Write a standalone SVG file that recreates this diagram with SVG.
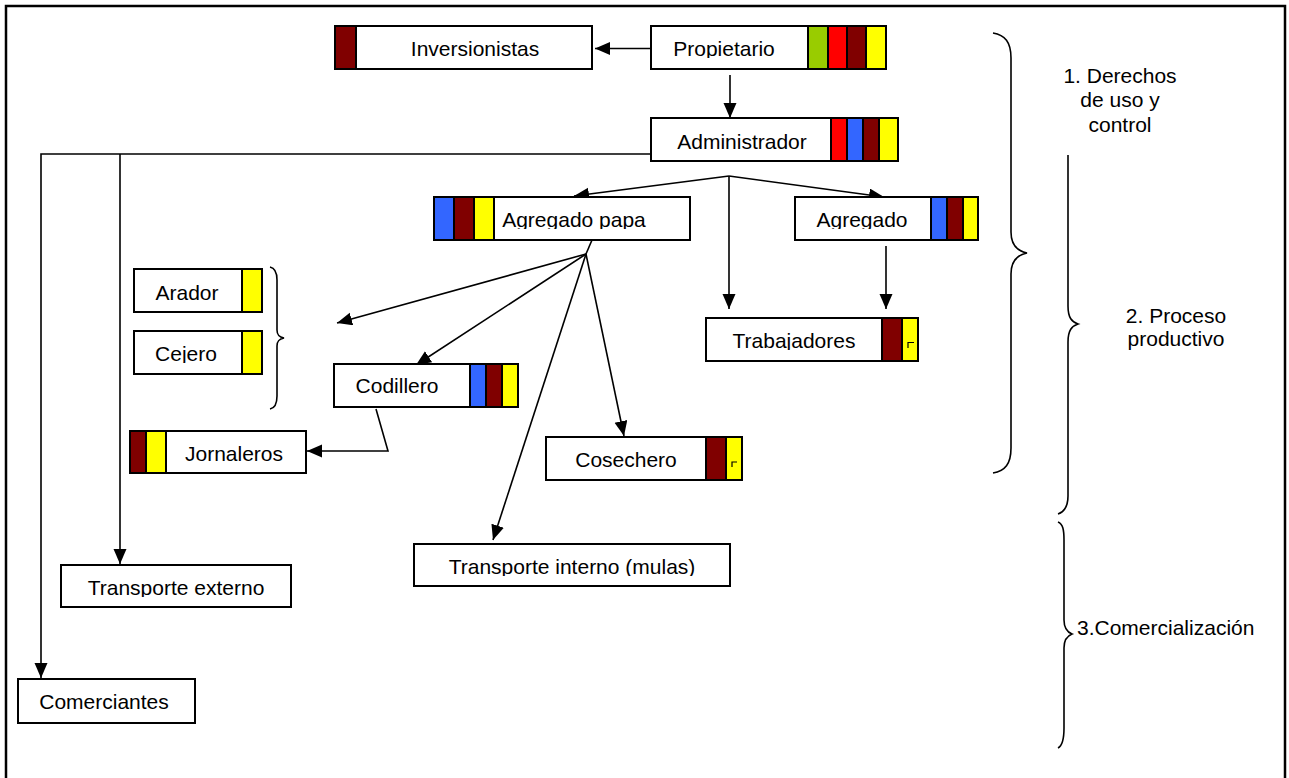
<svg xmlns="http://www.w3.org/2000/svg" width="1289" height="778" viewBox="0 0 1289 778">
  <style>
    .box { fill: #fff; stroke: #000; stroke-width: 2; }
    .sw  { stroke: #000; stroke-width: 2; }
    .mr  { fill: #800000; }
    .rd  { fill: #ff0000; }
    .bl  { fill: #3366ff; }
    .ye  { fill: #ffff00; }
    .gr  { fill: #99cc00; }
    .lbl { font-family: "Liberation Sans", Arial, sans-serif; font-size: 21px; fill: #000; text-anchor: middle; }
    .cut { clip-path: url(#textArea); }
    .side { font-family: "Liberation Sans", Arial, sans-serif; font-size: 21px; fill: #000; }
    .con { fill: none; stroke: #000; stroke-width: 1.6; }
    .arr { marker-end: url(#head); }
    .brace { fill: none; stroke: #000; stroke-width: 1.6; }
    .tick { fill: none; stroke: #000; stroke-width: 1.2; }
  </style>
  <defs>
    <marker id="head" markerUnits="userSpaceOnUse" markerWidth="16" markerHeight="14" refX="15" refY="6.5" orient="auto">
      <path d="M0,0 L15,6.5 L0,13 z" fill="#000"/>
    </marker>
    <!-- label area of each box: descenders are trimmed just under the baseline -->
    <clipPath id="textArea" clipPathUnits="userSpaceOnUse">
      <rect x="335" y="26" width="257" height="32"/>
      <rect x="651" y="26" width="235" height="32"/>
      <rect x="651" y="118" width="247" height="33"/>
      <rect x="434" y="197" width="256" height="32"/>
      <rect x="795" y="197" width="183" height="32"/>
      <rect x="134" y="269" width="128" height="33"/>
      <rect x="134" y="331" width="128" height="32"/>
      <rect x="706" y="318" width="212" height="32"/>
      <rect x="334" y="364" width="184" height="31"/>
      <rect x="130" y="431" width="176" height="32"/>
      <rect x="546" y="437" width="196" height="32"/>
      <rect x="414" y="544" width="316" height="32"/>
      <rect x="61" y="565" width="230" height="32"/>
      <rect x="18" y="679" width="177" height="32"/>
    </clipPath>
  </defs>

  <rect width="1289" height="778" fill="#fff"/>
  <!-- page frame -->
  <rect x="6" y="6" width="1279" height="800" fill="none" stroke="#000" stroke-width="2.5"/>

  <!-- connectors -->
  <g id="connectors">
    <path class="con arr" d="M651,48.5 H595"/>
    <path class="con arr" d="M730,75 V118"/>
    <path class="con arr" d="M651,154 H41 V678"/>
    <path class="con arr" d="M120,154 V564"/>
    <path class="con arr" d="M729,176 L574,196"/>
    <path class="con arr" d="M729,176 V309"/>
    <path class="con arr" d="M729,176 L884,197"/>
    <path class="con arr" d="M886,246 V309"/>
    <path class="con" d="M592,240 L586,254"/>
    <path class="con arr" d="M586,254 L337,323"/>
    <path class="con arr" d="M586,254 L416,365"/>
    <path class="con arr" d="M586,254 L493,540"/>
    <path class="con arr" d="M586,254 L624,436"/>
    <path class="con arr" d="M376,409 L388,451 H307"/>
  </g>

  <!-- nodes -->
  <g id="inversionistas">
    <rect class="box" x="335" y="26" width="257" height="43"/>
    <rect class="mr sw" x="335" y="26" width="21" height="43"/>
    <text class="lbl cut" x="475" y="56">Inversionistas</text>
  </g>
  <g id="propietario">
    <rect class="box" x="651" y="26" width="235" height="43"/>
    <rect class="gr sw" x="808" y="26" width="20" height="43"/>
    <rect class="rd sw" x="828" y="26" width="19" height="43"/>
    <rect class="mr sw" x="847" y="26" width="19" height="43"/>
    <rect class="ye sw" x="866" y="26" width="20" height="43"/>
    <text class="lbl cut" x="724" y="56">Propietario</text>
  </g>
  <g id="administrador">
    <rect class="box" x="651" y="118" width="247" height="43"/>
    <rect class="rd sw" x="831" y="118" width="16" height="43"/>
    <rect class="bl sw" x="847" y="118" width="16" height="43"/>
    <rect class="mr sw" x="863" y="118" width="16" height="43"/>
    <rect class="ye sw" x="879" y="118" width="19" height="43"/>
    <text class="lbl cut" x="742" y="149">Administrador</text>
  </g>
  <g id="agregado-papa">
    <rect class="box" x="434" y="197" width="256" height="43"/>
    <rect class="bl sw" x="434" y="197" width="20" height="43"/>
    <rect class="mr sw" x="454" y="197" width="20" height="43"/>
    <rect class="ye sw" x="474" y="197" width="20" height="43"/>
    <text class="lbl cut" x="574" y="227">Agregado papa</text>
  </g>
  <g id="agregado">
    <rect class="box" x="795" y="197" width="183" height="43"/>
    <rect class="bl sw" x="931" y="197" width="16" height="43"/>
    <rect class="mr sw" x="947" y="197" width="16" height="43"/>
    <rect class="ye sw" x="963" y="197" width="15" height="43"/>
    <text class="lbl cut" x="862" y="227">Agregado</text>
  </g>
  <g id="arador">
    <rect class="box" x="134" y="269" width="128" height="43"/>
    <rect class="ye sw" x="242" y="269" width="20" height="43"/>
    <text class="lbl cut" x="187" y="300">Arador</text>
  </g>
  <g id="cejero">
    <rect class="box" x="134" y="331" width="128" height="43"/>
    <rect class="ye sw" x="242" y="331" width="20" height="43"/>
    <text class="lbl cut" x="186" y="361">Cejero</text>
  </g>
  <g id="arador-cejero-brace">
    <path class="brace" d="M270,267 C275,268 277,272 277,280 V330 C277,335 279,337 284,338 C279,339 277,341 277,346 V396 C277,404 275,408 270,409"/>
  </g>
  <g id="trabajadores">
    <rect class="box" x="706" y="318" width="212" height="43"/>
    <rect class="mr sw" x="882" y="318" width="20" height="43"/>
    <rect class="ye sw" x="902" y="318" width="16" height="43"/>
    <path class="tick" d="M908,348 V342.5 H914"/>
    <text class="lbl cut" x="794" y="348">Trabajadores</text>
  </g>
  <g id="codillero">
    <rect class="box" x="334" y="364" width="184" height="43"/>
    <rect class="bl sw" x="470" y="364" width="16" height="43"/>
    <rect class="mr sw" x="486" y="364" width="16" height="43"/>
    <rect class="ye sw" x="502" y="364" width="16" height="43"/>
    <text class="lbl cut" x="397" y="393">Codillero</text>
  </g>
  <g id="jornaleros">
    <rect class="box" x="130" y="431" width="176" height="42"/>
    <rect class="mr sw" x="130" y="431" width="16" height="42"/>
    <rect class="ye sw" x="146" y="431" width="20" height="42"/>
    <text class="lbl cut" x="234" y="461">Jornaleros</text>
  </g>
  <g id="cosechero">
    <rect class="box" x="546" y="437" width="196" height="43"/>
    <rect class="mr sw" x="706" y="437" width="20" height="43"/>
    <rect class="ye sw" x="726" y="437" width="16" height="43"/>
    <path class="tick" d="M732,467 V462 H737"/>
    <text class="lbl cut" x="626" y="467">Cosechero</text>
  </g>
  <g id="transporte-interno">
    <rect class="box" x="414" y="544" width="316" height="42"/>
    <text class="lbl cut" x="572" y="574">Transporte interno (mulas)</text>
  </g>
  <g id="transporte-externo">
    <rect class="box" x="61" y="565" width="230" height="42"/>
    <text class="lbl cut" x="176" y="595">Transporte externo</text>
  </g>
  <g id="comerciantes">
    <rect class="box" x="18" y="679" width="177" height="44"/>
    <text class="lbl cut" x="104" y="709">Comerciantes</text>
  </g>

  <!-- stage brackets -->
  <g id="stage-1">
    <path class="brace" d="M993,33 C1005,35 1011,42 1011,58 V232 C1011,245 1017,251 1027,253 C1017,255 1011,261 1011,274 V448 C1011,464 1005,471 993,473"/>
    <text class="side" x="1120" y="83" text-anchor="middle">1. Derechos</text>
    <text class="side" x="1120" y="107" text-anchor="middle">de uso y</text>
    <text class="side" x="1120" y="132" text-anchor="middle">control</text>
  </g>
  <g id="stage-2">
    <path class="brace" d="M1068,155 V306 C1068,318 1072,322 1078,324 C1072,326 1068,330 1068,342 V496 C1068,507 1064,512 1058,514"/>
    <text class="side" x="1176" y="323" text-anchor="middle">2. Proceso</text>
    <text class="side" x="1176" y="346" text-anchor="middle">productivo</text>
  </g>
  <g id="stage-3">
    <path class="brace" d="M1058,522 C1063,524 1064,530 1064,540 V620 C1064,628 1067,632 1072,634 C1067,636 1064,640 1064,648 V728 C1064,740 1062,746 1058,748"/>
    <text class="side" x="1077" y="635">3.Comercialización</text>
  </g>
</svg>
